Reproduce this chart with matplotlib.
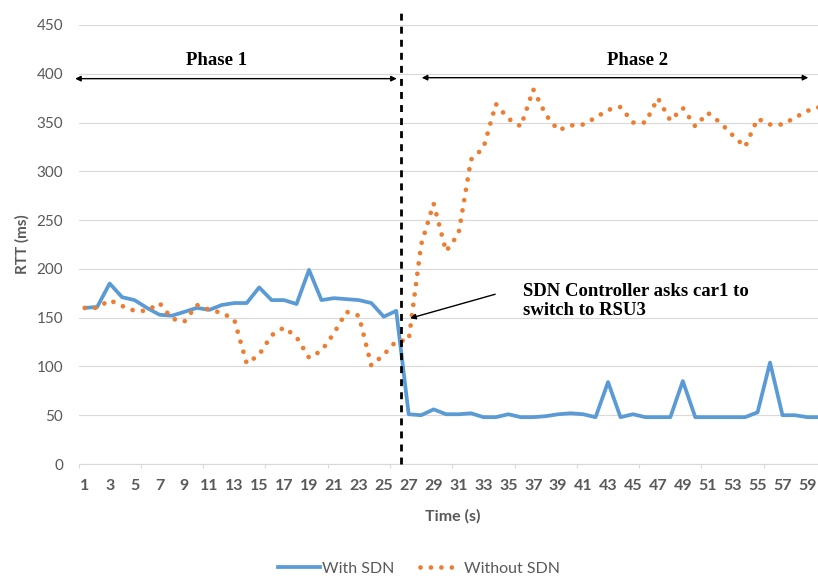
import matplotlib
matplotlib.use("Agg")
import matplotlib.pyplot as plt
from matplotlib.lines import Line2D
import numpy as np

plt.rcParams['font.family'] = ['Lato', 'DejaVu Sans']

# time steps (s) and RTT values (ms)
time_s = list(range(1, 61))
with_sdn = [160, 161, 185, 171, 168, 160, 153, 152, 156, 160,
            158, 163, 165, 165, 181, 168, 168, 164, 199, 168,
            170, 169, 168, 165, 151, 157, 51, 50, 56, 51,
            51, 52, 48, 48, 51, 48, 48, 49, 51, 52,
            51, 48, 84, 48, 51, 48, 48, 48, 85, 48,
            48, 48, 48, 48, 53, 104, 50, 50, 48, 48]
without_sdn = [160, 160, 168, 162, 157, 157, 165, 149, 146, 163,
               158, 155, 148, 103, 112, 132, 140, 130, 109, 116,
               134, 156, 152, 101, 112, 126, 127, 225, 267, 218,
               236, 312, 324, 369, 354, 346, 384, 358, 342, 347,
               348, 355, 363, 366, 350, 350, 375, 352, 365, 346,
               360, 350, 337, 325, 354, 348, 348, 355, 362, 366]
xtick_labels = [str(v) for v in range(1, 60, 2)]
yticks = list(range(0, 451, 50))

blue = '#5B9BD5'
orange = '#ED7D31'
grey = '#595959'
grid_c = '#d9d9d9'
dots = (0, (0.01, 2.2))

W, H = 818, 579
fig = plt.figure(figsize=(W / 100, H / 100), dpi=100)
ax = fig.add_axes([78.5 / W, 1 - 464 / H, (818 - 78.5) / W, (464 - 25) / H])

ax.plot(time_s, with_sdn, color=blue, lw=2.7, solid_joinstyle='round',
        solid_capstyle='round', zorder=3)
ax.plot(time_s, without_sdn, color=orange, lw=3.4, linestyle=dots,
        dash_capstyle='round', zorder=3)

ax.set_xlim(0.5, 59.85)
ax.set_ylim(0, 450)
ax.set_yticks(yticks)
ax.set_xticks(range(1, 60, 2))
ax.set_xticklabels(xtick_labels)
ax.set_xticks(np.arange(0.5, 60, 5), minor=True)
ax.tick_params(axis='y', length=0, pad=11, labelsize=11, labelcolor=grey)
ax.tick_params(axis='x', which='major', length=0, pad=11, labelsize=11.5,
               labelcolor=grey)
ax.tick_params(axis='x', which='minor', length=3, color=grid_c, width=0.8)
for lab in ax.get_xticklabels():
    lab.set_fontweight('bold')
ax.grid(axis='y', color=grid_c, lw=0.8)
ax.set_axisbelow(True)
for s in ['top', 'right', 'left']:
    ax.spines[s].set_visible(False)
ax.spines['bottom'].set_color(grid_c)
ax.spines['bottom'].set_linewidth(0.8)

# handover marker
ax.plot([26.39, 26.39], [0, 465], color='black', lw=2,
        linestyle=(0, (2.5, 2.2)), clip_on=False, zorder=4)

# phase arrows and labels
arrow_kw = dict(arrowstyle='<|-|>', color='black', lw=1, mutation_scale=8,
                shrinkA=0, shrinkB=0)
ax.annotate('', xy=(0.23, 395), xytext=(26.04, 395), arrowprops=arrow_kw,
            annotation_clip=False)
ax.annotate('', xy=(28.05, 396), xytext=(59.07, 396), arrowprops=arrow_kw,
            annotation_clip=False)
serif = ['Liberation Serif', 'DejaVu Serif']
ax.text(11.55, 414, 'Phase 1', ha='center', va='center', family=serif,
        weight='bold', size=13.5)
ax.text(45.4, 414, 'Phase 2', ha='center', va='center', family=serif,
        weight='bold', size=13.5)

ax.annotate('', xy=(27.12, 149.4), xytext=(33.94, 174),
            arrowprops=dict(arrowstyle='-|>', color='black', lw=1,
                            mutation_scale=8, shrinkA=0, shrinkB=0))
ax.text(36.15, 166.6, 'SDN Controller asks car1 to\nswitch to RSU3',
        ha='left', va='center', family=serif, weight='bold', size=13.5,
        linespacing=1.15)

fig.text(22 / W, 1 - 244 / H, 'RTT (ms)', rotation=90, ha='center',
         va='center', weight='bold', color=grey, size=11)
fig.text(452.5 / W, 1 - 516.7 / H, 'Time (s)', ha='center', va='center',
         weight='bold', color=grey, size=11.5)

handles = [Line2D([], [], color=blue, lw=2.7),
           Line2D([], [], color=orange, lw=3.4, linestyle=dots,
                  dash_capstyle='round')]
leg = fig.legend(handles, ['With SDN', 'Without SDN'], loc='center',
                 bbox_to_anchor=(419 / W, 1 - 569 / H), ncol=2, frameon=False,
                 handlelength=2.6, handletextpad=0.15, columnspacing=1.6,
                 fontsize=11.5)
for t in leg.get_texts():
    t.set_color(grey)

fig.savefig('out.png', dpi=100)
